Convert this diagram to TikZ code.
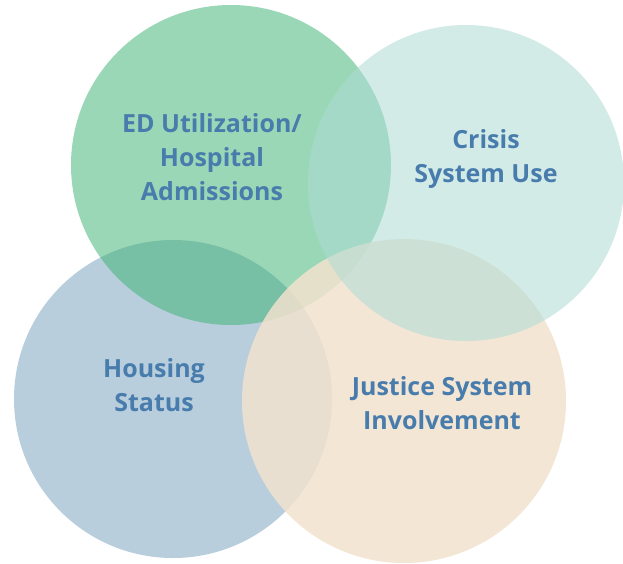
\documentclass[tikz,border=0pt]{standalone}
\usepackage{fontspec}
\setmainfont{Open Sans}
\definecolor{bluec}{RGB}{184,206,221}
\definecolor{greenc}{RGB}{55,177,111}
\definecolor{peachc}{RGB}{241,226,206}
\definecolor{tealc}{RGB}{175,220,213}
\definecolor{txtc}{RGB}{72,124,172}
\begin{document}
\begin{tikzpicture}[x=1pt,y=-1pt,
  blob/.style={circle,inner sep=0pt,draw=none},
  lbl/.style={font=\fontsize{25}{34}\selectfont\bfseries,text=txtc,align=center}]
\useasboundingbox[fill=white] (0,0) rectangle (623,563);
\node[blob,fill=bluec,minimum size=318pt] (housing) at (173,399) {};
\node[blob,fill=greenc,fill opacity=0.5,minimum size=320pt] (ed) at (231,165) {};
\node[blob,fill=peachc,fill opacity=0.85,minimum size=324pt] (justice) at (404,401) {};
\node[blob,fill=tealc,fill opacity=0.55,minimum size=316pt] (crisis) at (466,183) {};
\node[lbl] (tED) at (212,157) {ED Utilization/\\Hospital\\Admissions};
\node[lbl] (tCrisis) at (486,159) {Crisis\\System Use};
\node[lbl] (tHousing) at (154,385) {Housing\\Status};
\node[lbl] (tJustice) at (442,403) {Justice System\\Involvement};
\end{tikzpicture}
\end{document}
